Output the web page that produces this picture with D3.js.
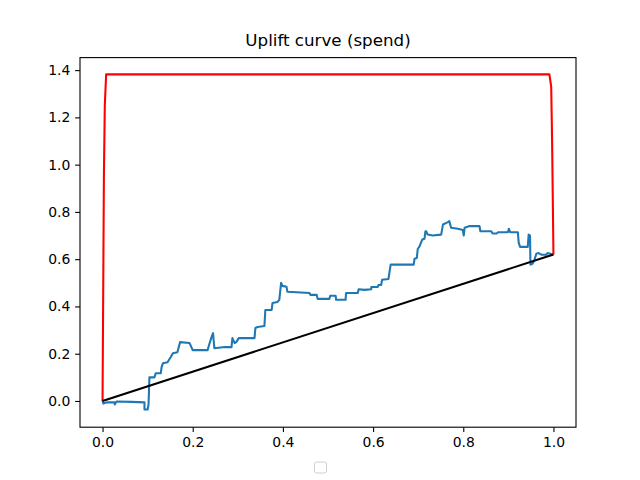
<!DOCTYPE html>
<html>
<head>
<meta charset="utf-8">
<script src="https://cdn.jsdelivr.net/npm/d3@7"></script>
<style>
  body { margin: 0; background: #fff; }
  svg text { font-family: "DejaVu Sans", sans-serif; }
</style>
</head>
<body>
<div id="chart"></div>
<script>
// perfect (red) uplift curve
const perfectX = [0, 0.003, 0.005, 0.008, 0.991, 0.995, 0.997, 1.0];
const perfectY = [0, 0.95, 1.25, 1.382, 1.382, 1.33, 1.1, 0.62];

// random baseline
const randomX = [0, 1];
const randomY = [0, 0.62];

// model uplift curve (blue)
const modelX = [0, 0.002, 0.009, 0.027, 0.027, 0.031, 0.064, 0.093, 0.093, 0.100, 0.102, 0.104,
  0.115, 0.118, 0.129, 0.131, 0.134, 0.144, 0.151, 0.156, 0.166, 0.172, 0.193, 0.200,
  0.233, 0.236, 0.241, 0.245, 0.248, 0.271, 0.286, 0.288, 0.293, 0.297, 0.302, 0.337,
  0.339, 0.344, 0.359, 0.361, 0.375, 0.377, 0.388, 0.392, 0.396, 0.399, 0.408, 0.410,
  0.459, 0.461, 0.475, 0.477, 0.503, 0.505, 0.517, 0.518, 0.539, 0.540, 0.566, 0.568,
  0.581, 0.596, 0.596, 0.610, 0.612, 0.618, 0.620, 0.634, 0.636, 0.639, 0.690, 0.692,
  0.697, 0.699, 0.703, 0.709, 0.714, 0.716, 0.718, 0.721, 0.732, 0.751, 0.755, 0.766,
  0.769, 0.773, 0.788, 0.799, 0.801, 0.803, 0.814, 0.836, 0.838, 0.862, 0.865, 0.874,
  0.877, 0.899, 0.901, 0.904, 0.921, 0.923, 0.926, 0.943, 0.945, 0.948, 0.949, 0.954,
  0.958, 0.962, 0.967, 0.973, 0.984, 0.987, 1.0];
const modelY = [0, -0.011, -0.006, -0.006, -0.015, -0.002, -0.004, -0.006, -0.036, -0.036, -0.015, 0.100,
  0.100, 0.117, 0.117, 0.143, 0.160, 0.164, 0.185, 0.202, 0.206, 0.249, 0.245, 0.215,
  0.215, 0.236, 0.266, 0.287, 0.223, 0.228, 0.228, 0.266, 0.245, 0.250, 0.266, 0.266,
  0.309, 0.313, 0.317, 0.385, 0.385, 0.415, 0.419, 0.428, 0.500, 0.487, 0.483, 0.462,
  0.457, 0.449, 0.449, 0.432, 0.432, 0.445, 0.445, 0.428, 0.428, 0.457, 0.457, 0.473,
  0.470, 0.473, 0.482, 0.482, 0.491, 0.491, 0.513, 0.516, 0.541, 0.577, 0.577, 0.602,
  0.605, 0.643, 0.654, 0.683, 0.686, 0.718, 0.718, 0.704, 0.700, 0.704, 0.747, 0.757,
  0.761, 0.733, 0.729, 0.723, 0.700, 0.733, 0.740, 0.740, 0.718, 0.718, 0.709, 0.709,
  0.714, 0.714, 0.729, 0.714, 0.714, 0.669, 0.652, 0.652, 0.704, 0.700, 0.577, 0.581,
  0.598, 0.623, 0.626, 0.619, 0.619, 0.626, 0.62];

const xTicks = [0, 0.2, 0.4, 0.6, 0.8, 1.0];
const yTicks = [0, 0.2, 0.4, 0.6, 0.8, 1.0, 1.2, 1.4];

const W = 640, H = 480;
const margin = { left: 80, right: 64, top: 57.6, bottom: 52.8 };

const svg = d3.select("#chart").append("svg")
  .attr("width", W).attr("height", H);

const x = d3.scaleLinear().domain([-0.05, 1.05]).range([margin.left, W - margin.right]);
const y = d3.scaleLinear().domain([-0.111, 1.453]).range([H - margin.bottom, margin.top]);

const toPts = (xs, ys) => xs.map((v, i) => [v, ys[i]]);
const line = d3.line().x(d => x(d[0])).y(d => y(d[1]));

const plot = svg.append("g");
plot.append("path").attr("d", line(toPts(perfectX, perfectY)))
  .attr("fill", "none").attr("stroke", "red").attr("stroke-width", 2.08)
  .attr("stroke-linejoin", "round");
plot.append("path").attr("d", line(toPts(modelX, modelY)))
  .attr("fill", "none").attr("stroke", "#1f77b4").attr("stroke-width", 2.08)
  .attr("stroke-linejoin", "round");
plot.append("path").attr("d", line(toPts(randomX, randomY)))
  .attr("fill", "none").attr("stroke", "black").attr("stroke-width", 2.08);

// axes
const xAxis = svg.append("g")
  .attr("transform", `translate(0,${H - margin.bottom})`)
  .call(d3.axisBottom(x).tickValues(xTicks).tickFormat(d3.format(".1f")).tickSizeOuter(0).tickSize(4.86).tickPadding(4.86));
const yAxis = svg.append("g")
  .attr("transform", `translate(${margin.left},0)`)
  .call(d3.axisLeft(y).tickValues(yTicks).tickFormat(d3.format(".1f")).tickSizeOuter(0).tickSize(4.86).tickPadding(4.86));

[xAxis, yAxis].forEach(a => {
  a.select(".domain").remove();
  a.selectAll(".tick line").attr("stroke", "#000").attr("stroke-width", 1.1);
  a.selectAll(".tick text").attr("font-size", 13.9).attr("fill", "#000")
    .style("font-family", "DejaVu Sans, sans-serif");
});

svg.append("rect")
  .attr("x", margin.left).attr("y", margin.top)
  .attr("width", W - margin.left - margin.right)
  .attr("height", H - margin.top - margin.bottom)
  .attr("fill", "none").attr("stroke", "#000").attr("stroke-width", 1.1);

svg.append("text")
  .attr("x", (margin.left + W - margin.right) / 2)
  .attr("y", margin.top - 11.5)
  .attr("text-anchor", "middle")
  .attr("font-size", 16.7)
  .text("Uplift curve (spend)");

// empty legend box
svg.append("rect")
  .attr("x", 314.5).attr("y", 462)
  .attr("width", 12).attr("height", 11).attr("rx", 2)
  .attr("fill", "#fff").attr("stroke", "#d0d0d0").attr("stroke-width", 1);
</script>
</body>
</html>
